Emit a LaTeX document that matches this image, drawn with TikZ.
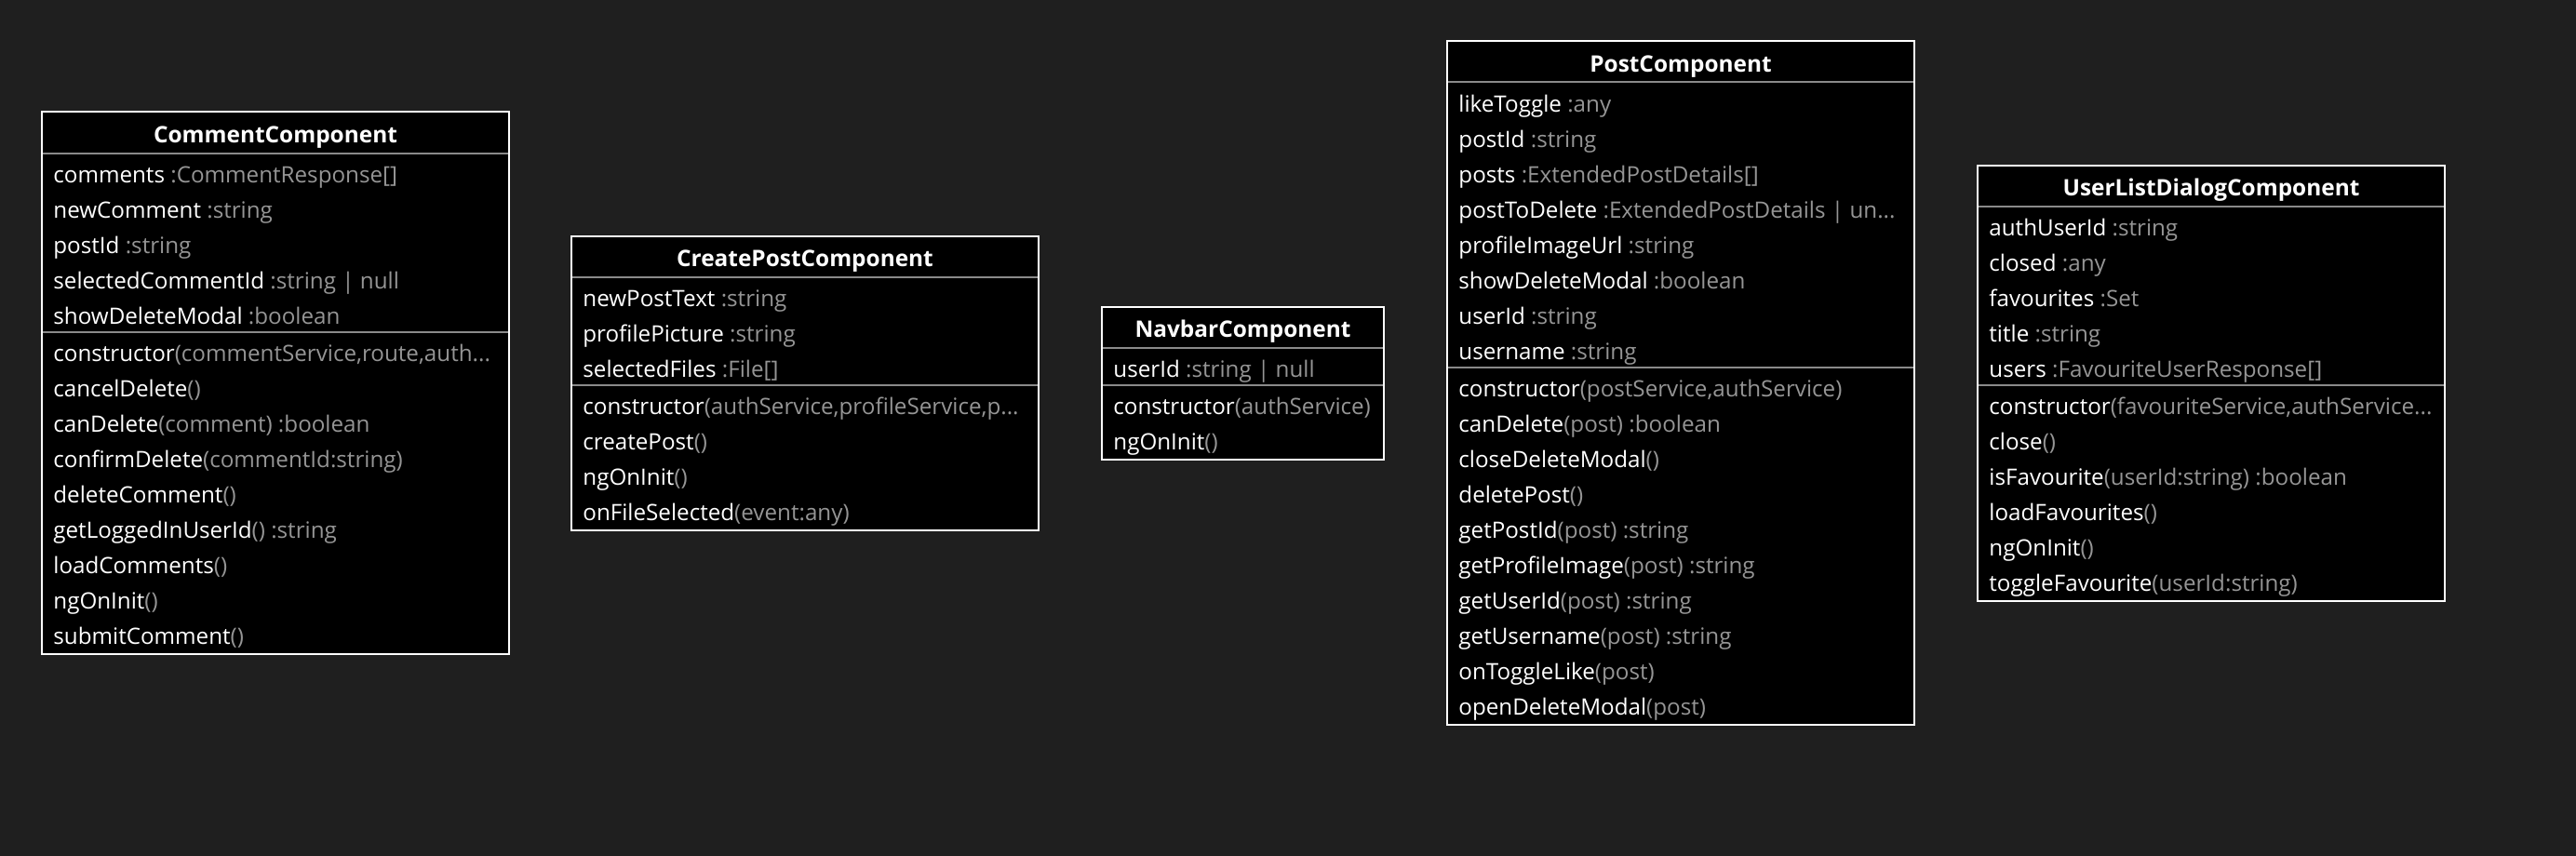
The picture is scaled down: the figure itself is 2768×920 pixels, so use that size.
\documentclass[tikz,border=0pt]{standalone}
\usepackage{fontspec}
\setmainfont{Open Sans}
\definecolor{bgcol}{HTML}{1F1F1F}
\definecolor{typegray}{HTML}{959595}
\definecolor{sepgray}{HTML}{8A8A8A}
\newcommand\nm[1]{\textcolor{white}{#1}}
\newcommand\ty[1]{\textcolor{typegray}{#1}}
\newcommand\rowfont{\fontsize{12.1pt}{15pt}\selectfont}
\newcommand\hdrfont{\fontsize{12.2pt}{15pt}\selectfont\bfseries}
% row macros (coordinates in pixels of the reference)
\newcommand\arow[2]{\node[rowtxt] (\bxN-a#1) at ({\bxL+12},{\bxT+76+38*#1}) {#2};}
\newcommand\mrow[2]{\node[rowtxt] (\bxN-m#1) at ({\bxL+12},{\bxT+78+38*(\bxNA+#1)}) {#2};}
\newcommand\classframe[1]{%
  \draw[frame] (\bxL,\bxT) rectangle ({\bxL+\bxW},{\bxT+50+38*(\bxNA+\bxNM)});
  \node[hdr] (\bxN-h) at ({\bxL+\bxW/2},{\bxT+33}) {#1};
  \draw[sep] ({\bxL+1},{\bxT+44}) -- ({\bxL+\bxW-1},{\bxT+44});
  \draw[sep] ({\bxL+1},{\bxT+46+38*\bxNA}) -- ({\bxL+\bxW-1},{\bxT+46+38*\bxNA});
}
\begin{document}
\begin{tikzpicture}[x=0.5pt,y=-0.5pt,
  frame/.style={draw=white,fill=black,line width=1pt},
  sep/.style={draw=sepgray,line width=1pt},
  hdr/.style={anchor=base,inner sep=0pt,font=\hdrfont,text=white},
  rowtxt/.style={anchor=base west,inner sep=0pt,font=\rowfont,text=white}]
\useasboundingbox (0,0) rectangle (2768,920);
\fill[bgcol] (0,0) rectangle (2768,920);

% CommentComponent
\def\bxN{cc}\def\bxL{45}\def\bxT{120.5}\def\bxW{502}\def\bxNA{5}\def\bxNM{9}
\classframe{CommentComponent}
\arow{0}{\nm{comments} \ty{:CommentResponse[]}}
\arow{1}{\nm{newComment} \ty{:string}}
\arow{2}{\nm{postId} \ty{:string}}
\arow{3}{\nm{selectedCommentId} \ty{:string | null}}
\arow{4}{\nm{showDeleteModal} \ty{:boolean}}
\mrow{0}{\nm{constructor}\ty{(commentService,route,auth...}}
\mrow{1}{\nm{cancelDelete}\ty{()}}
\mrow{2}{\nm{canDelete}\ty{(comment) :boolean}}
\mrow{3}{\nm{confirmDelete}\ty{(commentId:string)}}
\mrow{4}{\nm{deleteComment}\ty{()}}
\mrow{5}{\nm{getLoggedInUserId}\ty{() :string}}
\mrow{6}{\nm{loadComments}\ty{()}}
\mrow{7}{\nm{ngOnInit}\ty{()}}
\mrow{8}{\nm{submitComment}\ty{()}}

% CreatePostComponent
\def\bxN{cp}\def\bxL{614}\def\bxT{253.5}\def\bxW{502}\def\bxNA{3}\def\bxNM{4}
\classframe{CreatePostComponent}
\arow{0}{\nm{newPostText} \ty{:string}}
\arow{1}{\nm{profilePicture} \ty{:string}}
\arow{2}{\nm{selectedFiles} \ty{:File[]}}
\mrow{0}{\nm{constructor}\ty{(authService,profileService,p...}}
\mrow{1}{\nm{createPost}\ty{()}}
\mrow{2}{\nm{ngOnInit}\ty{()}}
\mrow{3}{\nm{onFileSelected}\ty{(event:any)}}

% NavbarComponent
\def\bxN{nb}\def\bxL{1184}\def\bxT{329.5}\def\bxW{303}\def\bxNA{1}\def\bxNM{2}
\classframe{NavbarComponent}
\arow{0}{\nm{userId} \ty{:string | null}}
\mrow{0}{\nm{constructor}\ty{(authService)}}
\mrow{1}{\nm{ngOnInit}\ty{()}}

% PostComponent
\def\bxN{pc}\def\bxL{1555}\def\bxT{44.5}\def\bxW{502}\def\bxNA{8}\def\bxNM{10}
\classframe{PostComponent}
\arow{0}{\nm{likeToggle} \ty{:any}}
\arow{1}{\nm{postId} \ty{:string}}
\arow{2}{\nm{posts} \ty{:ExtendedPostDetails[]}}
\arow{3}{\nm{postToDelete} \ty{:ExtendedPostDetails | un...}}
\arow{4}{\nm{profileImageUrl} \ty{:string}}
\arow{5}{\nm{showDeleteModal} \ty{:boolean}}
\arow{6}{\nm{userId} \ty{:string}}
\arow{7}{\nm{username} \ty{:string}}
\mrow{0}{\nm{constructor}\ty{(postService,authService)}}
\mrow{1}{\nm{canDelete}\ty{(post) :boolean}}
\mrow{2}{\nm{closeDeleteModal}\ty{()}}
\mrow{3}{\nm{deletePost}\ty{()}}
\mrow{4}{\nm{getPostId}\ty{(post) :string}}
\mrow{5}{\nm{getProfileImage}\ty{(post) :string}}
\mrow{6}{\nm{getUserId}\ty{(post) :string}}
\mrow{7}{\nm{getUsername}\ty{(post) :string}}
\mrow{8}{\nm{onToggleLike}\ty{(post)}}
\mrow{9}{\nm{openDeleteModal}\ty{(post)}}

% UserListDialogComponent
\def\bxN{ul}\def\bxL{2125}\def\bxT{177.5}\def\bxW{502}\def\bxNA{5}\def\bxNM{6}
\classframe{UserListDialogComponent}
\arow{0}{\nm{authUserId} \ty{:string}}
\arow{1}{\nm{closed} \ty{:any}}
\arow{2}{\nm{favourites} \ty{:Set}}
\arow{3}{\nm{title} \ty{:string}}
\arow{4}{\nm{users} \ty{:FavouriteUserResponse[]}}
\mrow{0}{\nm{constructor}\ty{(favouriteService,authService...}}
\mrow{1}{\nm{close}\ty{()}}
\mrow{2}{\nm{isFavourite}\ty{(userId:string) :boolean}}
\mrow{3}{\nm{loadFavourites}\ty{()}}
\mrow{4}{\nm{ngOnInit}\ty{()}}
\mrow{5}{\nm{toggleFavourite}\ty{(userId:string)}}
\end{tikzpicture}
\end{document}
